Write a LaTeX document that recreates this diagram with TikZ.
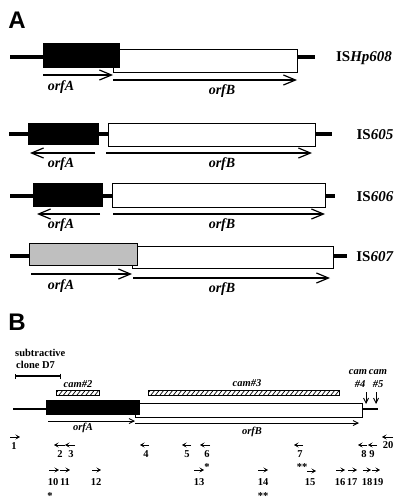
\documentclass[tikz,border=0pt]{standalone}
\usepackage{fontspec}
\setmainfont{Liberation Serif}
\newfontfamily\panelfont{Liberation Sans}
\usetikzlibrary{arrows.meta}
\begin{document}
\begin{tikzpicture}[x=1pt,y=-1pt,
  thickline/.style={line width=4pt},
  thinline/.style={line width=1.8pt},
  box/.style={draw=black,line width=0.8pt},
  bigarr/.style={line width=1.1pt,-{Straight Barb[length=12pt,width=10pt,line width=1.2pt]}},
  smallarr/.style={line width=0.9pt,-{Straight Barb[length=5pt,width=5pt,line width=0.9pt]}},
  primer/.style={line width=0.8pt,-{Stealth[length=4.5pt,width=5pt,inset=2pt]}},
  panel/.style={font=\panelfont\bfseries\fontsize{24}{26}\selectfont, inner sep=0pt},
  orfbig/.style={font=\bfseries\itshape\fontsize{14}{16}\selectfont, inner sep=0pt},
  orfsmall/.style={font=\bfseries\itshape\fontsize{10.5}{12}\selectfont, inner sep=0pt},
  isname/.style={font=\bfseries\fontsize{15}{17}\selectfont, inner sep=0pt},
  num/.style={font=\bfseries\fontsize{10.5}{12}\selectfont, inner sep=0pt},
  small/.style={font=\bfseries\fontsize{10.5}{12}\selectfont, inner sep=0pt},
]
\useasboundingbox (0,0) rectangle (400,501);
\fill[white] (0,0) rectangle (400,501);

% Panel labels
\node[panel] (pA) at (17,20) {A};
\node[panel] (pB) at (17,322) {B};

% ---------- ISHp608 ----------
\draw[thickline] (10,57) -- (315,57);
\draw[box,fill=white] (113,49) rectangle (297,72);
\fill[black] (43,43) rectangle (120,68);
\draw[bigarr] (43,75) -- (113,75);
\draw[bigarr] (113,80) -- (297,80);
\node[orfbig] (a1) at (61,87) {orfA};
\node[orfbig] (b1) at (222,91) {orfB};
\node[isname] (n1) at (364,58) {IS\textit{Hp608}};

% ---------- IS605 ----------
\draw[thickline] (9,134) -- (332,134);
\draw[box,fill=white] (108,123) rectangle (315,146);
\fill[black] (28,123) rectangle (99,145);
\draw[bigarr] (95,153) -- (30,153);
\draw[bigarr] (106,153) -- (312,153);
\node[orfbig] (a2) at (61,164) {orfA};
\node[orfbig] (b2) at (222,164) {orfB};
\node[isname] (n2) at (375,135) {IS\textit{605}};

% ---------- IS606 ----------
\draw[thickline] (10,196) -- (335,196);
\draw[box,fill=white] (112,183) rectangle (325,207);
\fill[black] (33,183) rectangle (103,207);
\draw[bigarr] (100,214) -- (37,214);
\draw[bigarr] (113,214) -- (325,214);
\node[orfbig] (a3) at (61,225) {orfA};
\node[orfbig] (b3) at (222,225) {orfB};
\node[isname] (n3) at (375,197) {IS\textit{606}};

% ---------- IS607 ----------
\draw[thickline] (10,256) -- (347,256);
\draw[box,fill=white] (132,246) rectangle (333,268);
\draw[box,fill=black!25] (29,243) rectangle (137,265);
\draw[bigarr] (31,274) -- (132,274);
\draw[bigarr] (133,278) -- (330,278);
\node[orfbig] (a4) at (61,286) {orfA};
\node[orfbig] (b4) at (222,289) {orfB};
\node[isname] (n4) at (375,257) {IS\textit{607}};

% ---------- Panel B ----------
\node[small,anchor=west] (sub1) at (15,353) {subtractive};
\node[small,anchor=west] (sub2) at (16,365) {clone D7};
\draw[line width=1.2pt,{Bar[width=5pt]}-{Bar[width=5pt]}] (15,376) -- (61,376);

% cam#2 hatched
\node[orfsmall] (c2) at (78,384) {cam\#2};
\begin{scope}
  \clip (56,390) rectangle (99,395);
  \foreach \x in {50,54.5,...,104} \draw[line width=0.7pt] (\x,395) -- ({\x+4},390);
\end{scope}
\draw[line width=0.7pt] (56,390) rectangle (99,395);

% cam#3 hatched
\node[orfsmall] (c3) at (247,383) {cam\#3};
\begin{scope}
  \clip (148,390) rectangle (339,395);
  \foreach \x in {142,146.5,...,344} \draw[line width=0.7pt] (\x,395) -- ({\x+4},390);
\end{scope}
\draw[line width=0.7pt] (148,390) rectangle (339,395);

% cam #4, #5
\node[orfsmall] (c4a) at (358,372) {cam};
\node[orfsmall] (c4b) at (360,384) {\#4};
\node[orfsmall] (c5a) at (378,372) {cam};
\node[orfsmall] (c5b) at (378,384) {\#5};
\draw[smallarr] (366,392) -- (366,404);
\draw[smallarr] (376,392) -- (376,404);

% main element
\draw[thinline] (13,409) -- (378,409);
\draw[box,fill=white] (135,403) rectangle (362,417);
\fill[black] (46,400) rectangle (140,415);
\draw[smallarr] (48,421) -- (135,421);
\draw[smallarr] (135,423) -- (359,423);
\node[orfsmall] (a5) at (83,428) {orfA};
\node[orfsmall] (b5) at (252,432) {orfB};

% primers row 1
\draw[primer] (10,437) -- (20,437);  \node[num] (p1) at (14,446) {1};
\draw[primer] (65,445) -- (54,445);  \node[num] (p2) at (60,454) {2};
\draw[primer] (75,445) -- (65,445);  \node[num] (p3) at (71,454) {3};
\draw[primer] (149,445) -- (140,445); \node[num] (p4) at (146,454) {4};
\draw[primer] (191,445) -- (182,445); \node[num] (p5) at (187,454) {5};
\draw[primer] (210,445) -- (200,445); \node[num] (p6) at (207,454) {6};
\node[num] (s6) at (207,467) {*};
\draw[primer] (303,445) -- (294,445); \node[num] (p7) at (300,454) {7};
\node[num] (s7) at (302,467) {**};
\draw[primer] (367,445) -- (358,445); \node[num] (p8) at (364,454) {8};
\draw[primer] (377,445) -- (368,445); \node[num] (p9) at (372,454) {9};
\draw[primer] (393,437) -- (382,437); \node[num] (p20) at (388,445) {20};

% primers row 2
\draw[primer] (49,470) -- (59,470);  \node[num] (p10) at (53,482) {10};
\node[num] (s10) at (50,496) {*};
\draw[primer] (60,470) -- (70,470);  \node[num] (p11) at (65,482) {11};
\draw[primer] (92,470) -- (101,470); \node[num] (p12) at (96,482) {12};
\draw[primer] (194,470) -- (204,470); \node[num] (p13) at (199,482) {13};
\draw[primer] (258,470) -- (268,470); \node[num] (p14) at (263,482) {14};
\node[num] (s14) at (263,496) {**};
\draw[primer] (307,471) -- (316,471); \node[num] (p15) at (310,482) {15};
\draw[primer] (336,470) -- (345,470); \node[num] (p16) at (340,482) {16};
\draw[primer] (348,470) -- (357,470); \node[num] (p17) at (352,482) {17};
\draw[primer] (363,470) -- (371,470); \node[num] (p18) at (367,482) {18};
\draw[primer] (372,470) -- (380,470); \node[num] (p19) at (378,482) {19};
\end{tikzpicture}
\end{document}
